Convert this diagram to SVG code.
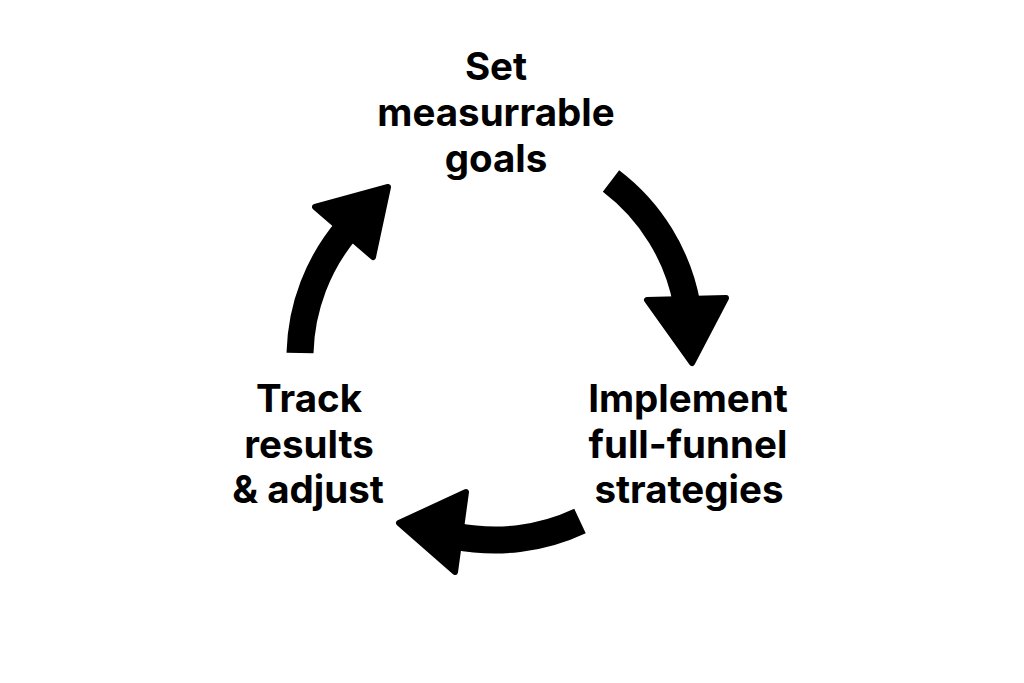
<svg xmlns="http://www.w3.org/2000/svg" width="1024" height="683" viewBox="0 0 1024 683">
<style>
.lbl{font-family:Inter,"Liberation Sans",sans-serif;font-weight:700;font-size:38.5px;fill:#000;text-anchor:middle}
.shaft{fill:none;stroke:#000;stroke-width:27;stroke-linecap:butt}
.head{fill:#000;stroke:#000;stroke-width:6;stroke-linejoin:round}
</style>
<rect width="1024" height="683" fill="#fff"/>
<g id="connectors">
<g id="arrow-goals-to-implement">
<path class="shaft" d="M611,181 A200,200 0 0 1 687,305"/>
<polygon class="head" points="647,300 726,298 692,363"/>
</g>
<g id="arrow-implement-to-track">
<path class="shaft" d="M580,521 A200,200 0 0 1 455,536"/>
<polygon class="head" points="466,492 455,572 399,523"/>
</g>
<g id="arrow-track-to-goals">
<path class="shaft" d="M300,353 A200,200 0 0 1 348,228"/>
<polygon class="head" points="315,207 373,257 388,187"/>
</g>
</g>
<g id="node-goals">
<text class="lbl" x="496" y="80">Set</text>
<text class="lbl" x="496" y="126">measurrable</text>
<text class="lbl" x="496" y="172">goals</text>
</g>
<g id="node-implement">
<text class="lbl" x="688" y="412">Implement</text>
<text class="lbl" x="688" y="458">full-funnel</text>
<text class="lbl" x="689" y="503">strategies</text>
</g>
<g id="node-track">
<text class="lbl" x="309" y="412">Track</text>
<text class="lbl" x="309" y="458">results</text>
<text class="lbl" x="308" y="503">&amp; adjust</text>
</g>
</svg>
